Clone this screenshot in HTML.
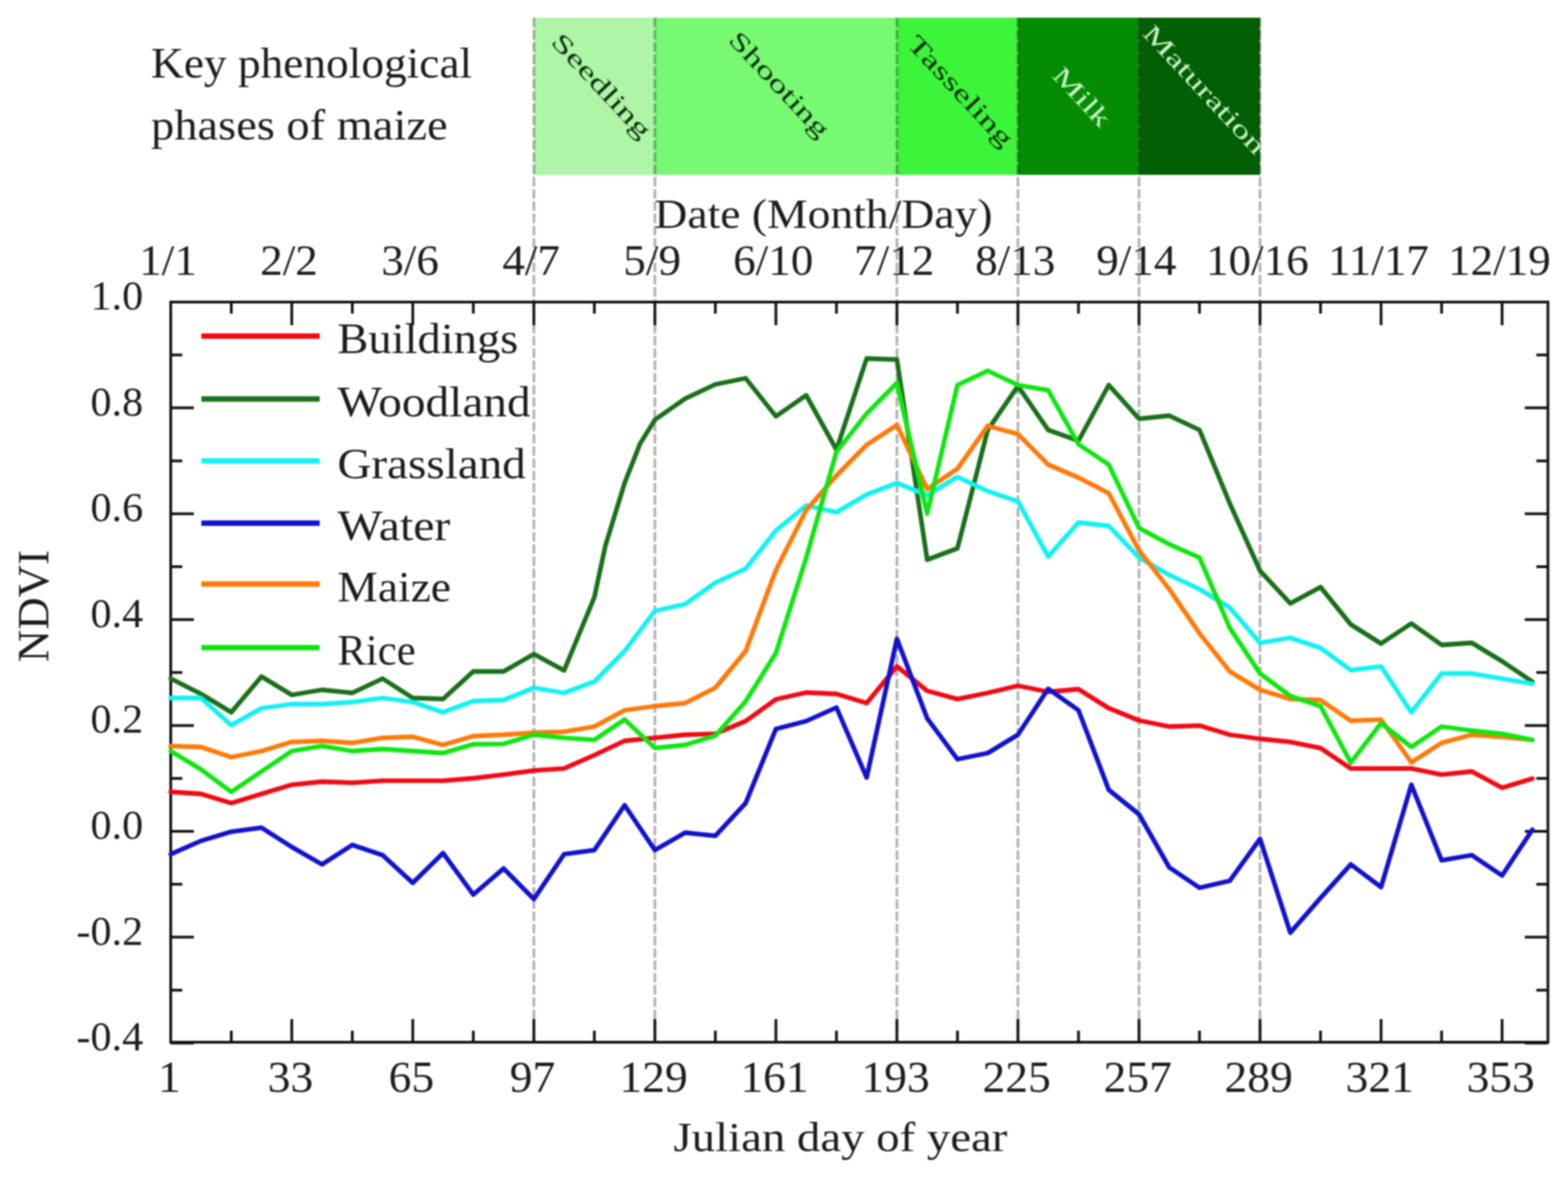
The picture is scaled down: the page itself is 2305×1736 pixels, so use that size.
<!DOCTYPE html><html><head><meta charset="utf-8"><title>NDVI time series</title>
<style>html,body{margin:0;padding:0;background:#fff;}svg{display:block;filter:blur(1.1px);}text{font-family:"Liberation Serif","DejaVu Serif",serif;fill:#1c1c1c;}</style></head><body>
<svg width="2305" height="1736" viewBox="0 0 2305 1736">
<rect x="0" y="0" width="2305" height="1736" fill="#ffffff"/>
<rect x="784.8" y="26" width="177.9" height="231" fill="#aef5a8"/>
<rect x="962.7" y="26" width="355.8" height="231" fill="#78f974"/>
<rect x="1318.5" y="26" width="177.9" height="231" fill="#3cf43a"/>
<rect x="1496.4" y="26" width="177.9" height="231" fill="#048d04"/>
<rect x="1674.4" y="26" width="177.9" height="231" fill="#035f03"/>
<line x1="784.8" y1="26" x2="784.8" y2="1532.0" stroke="#000" stroke-opacity="0.3" stroke-width="4" stroke-dasharray="14 4"/>
<line x1="962.7" y1="26" x2="962.7" y2="1532.0" stroke="#000" stroke-opacity="0.3" stroke-width="4" stroke-dasharray="14 4"/>
<line x1="1318.5" y1="26" x2="1318.5" y2="1532.0" stroke="#000" stroke-opacity="0.3" stroke-width="4" stroke-dasharray="14 4"/>
<line x1="1496.4" y1="26" x2="1496.4" y2="1532.0" stroke="#000" stroke-opacity="0.3" stroke-width="4" stroke-dasharray="14 4"/>
<line x1="1674.4" y1="26" x2="1674.4" y2="1532.0" stroke="#000" stroke-opacity="0.3" stroke-width="4" stroke-dasharray="14 4"/>
<line x1="1852.3" y1="26" x2="1852.3" y2="1532.0" stroke="#000" stroke-opacity="0.3" stroke-width="4" stroke-dasharray="14 4"/>
<defs><clipPath id="bandclip"><rect x="784.8" y="26" width="1067.5" height="231"/></clipPath></defs>
<g clip-path="url(#bandclip)">
<text x="0" y="0" text-anchor="middle" dominant-baseline="central" font-size="37" textLength="196" lengthAdjust="spacingAndGlyphs" style="fill:#0f320f" transform="translate(884.5,126.0) rotate(47)">Seedling</text>
<text x="0" y="0" text-anchor="middle" dominant-baseline="central" font-size="37" textLength="198" lengthAdjust="spacingAndGlyphs" style="fill:#0f320f" transform="translate(1145.8,124.0) rotate(47)">Shooting</text>
<text x="0" y="0" text-anchor="middle" dominant-baseline="central" font-size="37" textLength="209" lengthAdjust="spacingAndGlyphs" style="fill:#0d300d" transform="translate(1412.2,133.7) rotate(47)">Tasseling</text>
<text x="0" y="0" text-anchor="middle" dominant-baseline="central" font-size="37" textLength="106" lengthAdjust="spacingAndGlyphs" style="fill:#c9f2c4" transform="translate(1590.6,142.2) rotate(47)">Milk</text>
<text x="0" y="0" text-anchor="middle" dominant-baseline="central" font-size="37" textLength="245" lengthAdjust="spacingAndGlyphs" style="fill:#c9f2c4" transform="translate(1770.7,131.4) rotate(47)">Maturation</text>
</g>
<text x="222" y="114" font-size="64" textLength="472" lengthAdjust="spacingAndGlyphs">Key phenological</text>
<text x="222" y="205" font-size="64" textLength="436" lengthAdjust="spacingAndGlyphs">phases of maize</text>
<text x="962" y="335" font-size="62" textLength="497" lengthAdjust="spacingAndGlyphs">Date (Month/Day)</text>
<text x="0" y="0" font-size="62" text-anchor="middle" transform="translate(247.0,404) scale(1.07,1.02)">1/1</text>
<text x="0" y="0" font-size="62" text-anchor="middle" transform="translate(424.9,404) scale(1.07,1.02)">2/2</text>
<text x="0" y="0" font-size="62" text-anchor="middle" transform="translate(602.8,404) scale(1.07,1.02)">3/6</text>
<text x="0" y="0" font-size="62" text-anchor="middle" transform="translate(780.8,404) scale(1.07,1.02)">4/7</text>
<text x="0" y="0" font-size="62" text-anchor="middle" transform="translate(958.7,404) scale(1.07,1.02)">5/9</text>
<text x="0" y="0" font-size="62" text-anchor="middle" transform="translate(1136.6,404) scale(1.07,1.02)">6/10</text>
<text x="0" y="0" font-size="62" text-anchor="middle" transform="translate(1314.5,404) scale(1.07,1.02)">7/12</text>
<text x="0" y="0" font-size="62" text-anchor="middle" transform="translate(1492.4,404) scale(1.07,1.02)">8/13</text>
<text x="0" y="0" font-size="62" text-anchor="middle" transform="translate(1670.4,404) scale(1.07,1.02)">9/14</text>
<text x="0" y="0" font-size="62" text-anchor="middle" transform="translate(1848.3,404) scale(1.07,1.02)">10/16</text>
<text x="0" y="0" font-size="62" text-anchor="middle" transform="translate(2026.2,404) scale(1.07,1.02)">11/17</text>
<text x="0" y="0" font-size="62" text-anchor="middle" transform="translate(2204.1,404) scale(1.07,1.02)">12/19</text>
<text x="0" y="0" font-size="62" text-anchor="middle" transform="translate(249.0,1605) scale(1.08,1.04)">1</text>
<text x="0" y="0" font-size="62" text-anchor="middle" transform="translate(426.9,1605) scale(1.08,1.04)">33</text>
<text x="0" y="0" font-size="62" text-anchor="middle" transform="translate(604.8,1605) scale(1.08,1.04)">65</text>
<text x="0" y="0" font-size="62" text-anchor="middle" transform="translate(782.8,1605) scale(1.08,1.04)">97</text>
<text x="0" y="0" font-size="62" text-anchor="middle" transform="translate(960.7,1605) scale(1.08,1.04)">129</text>
<text x="0" y="0" font-size="62" text-anchor="middle" transform="translate(1138.6,1605) scale(1.08,1.04)">161</text>
<text x="0" y="0" font-size="62" text-anchor="middle" transform="translate(1316.5,1605) scale(1.08,1.04)">193</text>
<text x="0" y="0" font-size="62" text-anchor="middle" transform="translate(1494.4,1605) scale(1.08,1.04)">225</text>
<text x="0" y="0" font-size="62" text-anchor="middle" transform="translate(1672.4,1605) scale(1.08,1.04)">257</text>
<text x="0" y="0" font-size="62" text-anchor="middle" transform="translate(1850.3,1605) scale(1.08,1.04)">289</text>
<text x="0" y="0" font-size="62" text-anchor="middle" transform="translate(2028.2,1605) scale(1.08,1.04)">321</text>
<text x="0" y="0" font-size="62" text-anchor="middle" transform="translate(2206.1,1605) scale(1.08,1.04)">353</text>
<text x="990" y="1692" font-size="62" textLength="491" lengthAdjust="spacingAndGlyphs">Julian day of year</text>
<text x="210.5" y="455.0" font-size="62" text-anchor="end">1.0</text>
<text x="210.5" y="610.6" font-size="62" text-anchor="end">0.8</text>
<text x="210.5" y="766.2" font-size="62" text-anchor="end">0.6</text>
<text x="210.5" y="921.8" font-size="62" text-anchor="end">0.4</text>
<text x="210.5" y="1077.4" font-size="62" text-anchor="end">0.2</text>
<text x="210.5" y="1233.0" font-size="62" text-anchor="end">0.0</text>
<text x="210.5" y="1388.6" font-size="62" text-anchor="end">-0.2</text>
<text x="210.5" y="1544.2" font-size="62" text-anchor="end">-0.4</text>
<text x="0" y="0" font-size="66" text-anchor="middle" transform="translate(71,891) rotate(-90)">NDVI</text>
<path d="M251.0,444.0v34M251.0,1532.0v-34M428.9,444.0v34M428.9,1532.0v-34M606.8,444.0v34M606.8,1532.0v-34M784.8,444.0v34M784.8,1532.0v-34M962.7,444.0v34M962.7,1532.0v-34M1140.6,444.0v34M1140.6,1532.0v-34M1318.5,444.0v34M1318.5,1532.0v-34M1496.4,444.0v34M1496.4,1532.0v-34M1674.4,444.0v34M1674.4,1532.0v-34M1852.3,444.0v34M1852.3,1532.0v-34M2030.2,444.0v34M2030.2,1532.0v-34M2208.1,444.0v34M2208.1,1532.0v-34M340.0,444.0v17M340.0,1532.0v-17M517.9,444.0v17M517.9,1532.0v-17M695.8,444.0v17M695.8,1532.0v-17M873.7,444.0v17M873.7,1532.0v-17M1051.6,444.0v17M1051.6,1532.0v-17M1229.6,444.0v17M1229.6,1532.0v-17M1407.5,444.0v17M1407.5,1532.0v-17M1585.4,444.0v17M1585.4,1532.0v-17M1763.3,444.0v17M1763.3,1532.0v-17M1941.2,444.0v17M1941.2,1532.0v-17M2119.2,444.0v17M2119.2,1532.0v-17M251.0,444.0h34M2275.5,444.0h-34M251.0,521.8h17M2275.5,521.8h-17M251.0,599.6h34M2275.5,599.6h-34M251.0,677.4h17M2275.5,677.4h-17M251.0,755.2h34M2275.5,755.2h-34M251.0,833.0h17M2275.5,833.0h-17M251.0,910.8h34M2275.5,910.8h-34M251.0,988.6h17M2275.5,988.6h-17M251.0,1066.4h34M2275.5,1066.4h-34M251.0,1144.2h17M2275.5,1144.2h-17M251.0,1222.0h34M2275.5,1222.0h-34M251.0,1299.8h17M2275.5,1299.8h-17M251.0,1377.6h34M2275.5,1377.6h-34M251.0,1455.4h17M2275.5,1455.4h-17M251.0,1533.2h34M2275.5,1533.2h-34" stroke="#111" stroke-width="4" fill="none"/>
<rect x="251.0" y="444.0" width="2024.5" height="1088.0" fill="none" stroke="#111" stroke-width="4"/>
<line x1="296" y1="494" x2="470" y2="494" stroke="#f00a14" stroke-width="8"/>
<text x="496" y="519.0" font-size="63" textLength="266" lengthAdjust="spacingAndGlyphs">Buildings</text>
<line x1="296" y1="586.5" x2="470" y2="586.5" stroke="#1a701a" stroke-width="8"/>
<text x="496" y="611.5" font-size="63" textLength="284" lengthAdjust="spacingAndGlyphs">Woodland</text>
<line x1="296" y1="677.5" x2="470" y2="677.5" stroke="#12f2f2" stroke-width="8"/>
<text x="496" y="702.5" font-size="63" textLength="277" lengthAdjust="spacingAndGlyphs">Grassland</text>
<line x1="296" y1="769" x2="470" y2="769" stroke="#1212cc" stroke-width="8"/>
<text x="496" y="794.0" font-size="63" textLength="166" lengthAdjust="spacingAndGlyphs">Water</text>
<line x1="296" y1="858.5" x2="470" y2="858.5" stroke="#ff7a0a" stroke-width="8"/>
<text x="496" y="883.5" font-size="63" textLength="167" lengthAdjust="spacingAndGlyphs">Maize</text>
<line x1="296" y1="952" x2="470" y2="952" stroke="#10e612" stroke-width="8"/>
<text x="496" y="977.0" font-size="63" textLength="115" lengthAdjust="spacingAndGlyphs">Rice</text>
<polyline points="251.0,1164.0 295.5,1167.0 340.0,1180.6 384.4,1167.0 428.9,1153.6 473.4,1149.0 517.9,1150.6 562.4,1147.6 606.8,1147.6 651.3,1147.6 695.8,1144.0 740.3,1138.6 784.8,1132.6 829.2,1129.6 873.7,1110.0 918.2,1089.0 962.7,1084.6 1007.2,1080.0 1051.6,1078.6 1096.1,1060.0 1140.6,1028.0 1185.1,1018.0 1229.6,1020.0 1274.0,1033.5 1318.5,979.5 1363.0,1015.5 1407.5,1027.6 1452.0,1018.5 1496.4,1008.0 1540.9,1017.0 1585.4,1013.0 1629.9,1041.0 1674.4,1059.0 1718.8,1068.0 1763.3,1066.6 1807.8,1080.0 1852.3,1086.0 1896.8,1090.6 1941.2,1099.6 1985.7,1129.6 2030.2,1129.6 2074.7,1129.6 2119.2,1138.6 2163.6,1134.0 2208.1,1158.0 2252.6,1144.6" fill="none" stroke="#f00a14" stroke-width="6.8" stroke-linejoin="round" stroke-linecap="round"/>
<polyline points="251.0,997.5 295.5,1020.0 340.0,1047.0 384.4,994.5 428.9,1021.5 473.4,1014.0 517.9,1018.5 562.4,997.5 606.8,1026.0 651.3,1027.5 695.8,987.0 740.3,987.0 784.8,961.5 829.2,985.5 873.7,878.0 890.0,802.0 918.2,710.0 941.0,652.0 962.7,617.0 1007.2,586.0 1051.6,565.0 1096.1,556.0 1140.6,612.0 1185.1,581.0 1229.6,661.0 1274.0,527.0 1318.5,528.5 1363.0,822.7 1407.5,806.0 1452.0,632.0 1496.4,567.5 1540.9,632.0 1585.4,648.0 1629.9,566.0 1674.4,615.6 1718.8,611.0 1763.3,632.0 1807.8,740.0 1852.3,839.0 1896.8,887.0 1941.2,863.0 1985.7,918.0 2030.2,946.0 2074.7,916.5 2119.2,948.0 2163.6,945.0 2208.1,972.0 2252.6,1002.0" fill="none" stroke="#1a701a" stroke-width="6.8" stroke-linejoin="round" stroke-linecap="round"/>
<polyline points="251.0,1026.0 295.5,1026.0 340.0,1066.0 384.4,1041.0 428.9,1035.0 473.4,1035.0 517.9,1032.0 562.4,1026.0 606.8,1032.0 651.3,1047.0 695.8,1030.5 740.3,1029.0 784.8,1011.0 829.2,1018.5 873.7,1002.0 918.2,957.0 962.7,898.0 1007.2,888.0 1051.6,856.5 1096.1,836.0 1140.6,780.0 1185.1,743.0 1229.6,753.0 1274.0,727.0 1318.5,710.0 1363.0,728.0 1407.5,701.0 1452.0,722.0 1496.4,737.0 1540.9,818.0 1585.4,768.0 1629.9,773.0 1674.4,819.6 1718.8,845.0 1763.3,866.0 1807.8,893.0 1852.3,945.0 1896.8,937.5 1941.2,952.5 1985.7,985.0 2030.2,979.6 2074.7,1047.0 2119.2,990.0 2163.6,990.0 2208.1,997.6 2252.6,1005.0" fill="none" stroke="#12f2f2" stroke-width="6.8" stroke-linejoin="round" stroke-linecap="round"/>
<polyline points="251.0,1255.6 295.5,1236.0 340.0,1222.6 384.4,1216.6 428.9,1245.0 473.4,1270.6 517.9,1242.0 562.4,1257.0 606.8,1297.7 651.3,1254.0 695.8,1315.0 740.3,1276.6 784.8,1321.7 829.2,1255.6 873.7,1249.6 918.2,1183.6 962.7,1249.6 1007.2,1224.0 1051.6,1228.6 1096.1,1180.6 1140.6,1071.5 1185.1,1060.0 1229.6,1040.0 1274.0,1143.0 1318.5,939.0 1363.0,1056.0 1407.5,1116.0 1452.0,1107.0 1496.4,1080.0 1540.9,1012.5 1585.4,1044.0 1629.9,1161.0 1674.4,1197.0 1718.8,1275.0 1763.3,1305.0 1807.8,1294.7 1852.3,1233.0 1896.8,1371.0 1941.2,1320.0 1985.7,1270.6 2030.2,1304.0 2074.7,1153.6 2119.2,1264.7 2163.6,1257.0 2208.1,1287.0 2252.6,1219.6" fill="none" stroke="#1212cc" stroke-width="6.8" stroke-linejoin="round" stroke-linecap="round"/>
<polyline points="251.0,1096.6 295.5,1098.0 340.0,1113.0 384.4,1104.0 428.9,1090.6 473.4,1089.0 517.9,1092.0 562.4,1084.6 606.8,1083.0 651.3,1095.0 695.8,1082.0 740.3,1080.0 784.8,1077.0 829.2,1075.6 873.7,1068.0 918.2,1044.0 962.7,1038.0 1007.2,1033.5 1051.6,1011.0 1096.1,957.0 1140.6,838.0 1185.1,750.0 1229.6,699.0 1274.0,654.0 1318.5,624.6 1363.0,719.0 1407.5,689.0 1452.0,626.0 1496.4,638.0 1540.9,683.0 1585.4,702.0 1629.9,725.0 1674.4,809.0 1718.8,866.0 1763.3,931.0 1807.8,987.0 1852.3,1014.0 1896.8,1027.6 1941.2,1029.0 1985.7,1059.5 2030.2,1057.6 2074.7,1120.6 2119.2,1092.0 2163.6,1080.0 2208.1,1083.0 2252.6,1087.6" fill="none" stroke="#ff7a0a" stroke-width="6.8" stroke-linejoin="round" stroke-linecap="round"/>
<polyline points="251.0,1104.0 295.5,1131.0 340.0,1164.0 384.4,1134.0 428.9,1104.0 473.4,1096.6 517.9,1104.0 562.4,1101.0 606.8,1104.0 651.3,1107.0 695.8,1094.0 740.3,1093.6 784.8,1080.0 829.2,1084.6 873.7,1087.6 918.2,1057.6 962.7,1099.6 1007.2,1095.0 1051.6,1081.6 1096.1,1031.0 1140.6,960.0 1185.1,820.0 1229.6,664.0 1274.0,608.0 1318.5,563.0 1363.0,755.0 1407.5,566.0 1452.0,545.0 1496.4,566.0 1540.9,573.6 1585.4,653.0 1629.9,683.0 1674.4,776.0 1718.8,800.0 1763.3,819.6 1807.8,923.0 1852.3,990.0 1896.8,1023.0 1941.2,1038.0 1985.7,1121.0 2030.2,1063.0 2074.7,1098.0 2119.2,1068.0 2163.6,1074.0 2208.1,1078.6 2252.6,1087.6" fill="none" stroke="#10e612" stroke-width="6.8" stroke-linejoin="round" stroke-linecap="round"/>
</svg></body></html>
